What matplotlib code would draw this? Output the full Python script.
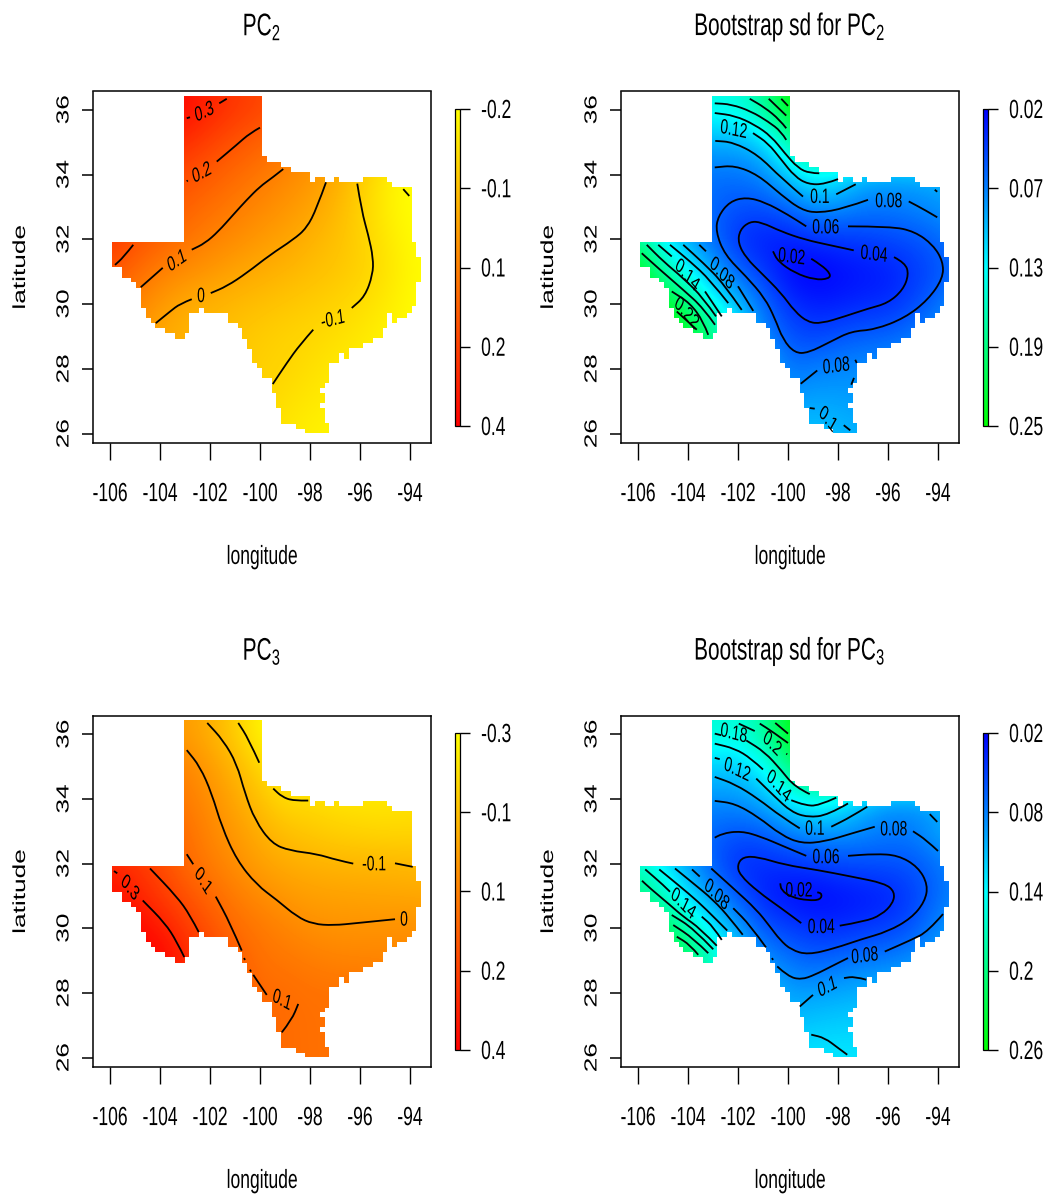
import numpy as np
from matplotlib import pyplot as plt
from matplotlib import patheffects as pe
from matplotlib.colors import LinearSegmentedColormap, Normalize
from matplotlib.cm import ScalarMappable
from matplotlib.patches import PathPatch, Polygon
from matplotlib.path import Path
from matplotlib.transforms import Affine2D

plt.rcParams['font.family'] = ['Liberation Sans', 'DejaVu Sans']
plt.rcParams['mathtext.fontset'] = 'custom'
plt.rcParams['mathtext.rm'] = 'Liberation Sans'
plt.rcParams['mathtext.default'] = 'regular'

# Texas outline on the grid of the original map, lon/lat
texas_lon = [-103.04, -99.92, -99.92, -99.72, -99.72, -99.15, -99.15, -98.75, -98.75, -98.0, -98.0, -97.8, -97.8, -97.4, -97.4, -97.04, -97.04, -96.84, -96.84, -95.87, -95.87, -94.92, -94.92, -94.72, -94.72, -93.92, -93.92, -93.76, -93.76, -93.56, -93.56, -93.76, -93.76, -93.92, -93.92, -94.13, -94.13, -94.52, -94.52, -94.72, -94.72, -94.92, -94.92, -95.08, -95.08, -95.47, -95.47, -95.87, -95.87, -96.44, -96.44, -96.64, -96.64, -96.84, -96.84, -97.23, -97.23, -97.4, -97.4, -97.59, -97.59, -97.4, -97.4, -97.59, -97.59, -97.4, -97.4, -97.23, -97.23, -98.2, -98.2, -98.56, -98.56, -99.15, -99.15, -99.36, -99.36, -99.53, -99.53, -99.92, -99.92, -100.12, -100.12, -100.31, -100.31, -100.51, -100.51, -100.71, -100.71, -100.89, -100.89, -101.28, -101.28, -102.24, -102.24, -102.44, -102.44, -102.83, -102.83, -103.0, -103.0, -103.4, -103.4, -103.79, -103.79, -104.19, -104.19, -104.36, -104.36, -104.56, -104.56, -104.76, -104.76, -104.96, -104.96, -105.15, -105.15, -105.52, -105.52, -105.92, -105.92, -103.04]
texas_lat = [36.43, 36.43, 34.56, 34.56, 34.39, 34.39, 34.24, 34.24, 34.08, 34.08, 33.78, 33.78, 33.93, 33.93, 33.78, 33.78, 33.93, 33.93, 33.78, 33.78, 33.93, 33.93, 33.78, 33.78, 33.62, 33.62, 31.93, 31.93, 31.46, 31.46, 30.67, 30.67, 29.93, 29.93, 29.73, 29.73, 29.57, 29.57, 29.42, 29.42, 29.73, 29.73, 29.26, 29.26, 28.95, 28.95, 28.80, 28.80, 28.64, 28.64, 28.31, 28.31, 28.48, 28.48, 28.17, 28.17, 27.55, 27.55, 27.41, 27.41, 27.26, 27.26, 26.94, 26.94, 26.80, 26.80, 26.34, 26.34, 26.01, 26.01, 26.15, 26.15, 26.31, 26.31, 26.79, 26.79, 27.25, 27.25, 27.72, 27.72, 28.02, 28.02, 28.17, 28.17, 28.62, 28.62, 28.93, 28.93, 29.26, 29.26, 29.42, 29.42, 29.73, 29.73, 29.88, 29.88, 29.73, 29.73, 29.11, 29.11, 28.93, 28.93, 29.11, 29.11, 29.26, 29.26, 29.42, 29.42, 29.57, 29.57, 29.88, 29.88, 30.49, 30.49, 30.67, 30.67, 30.82, 30.82, 31.13, 31.13, 31.93, 31.93]

field_lon = [-106, -105, -104, -103, -102, -101, -100, -99, -98, -97, -96, -95, -94, -93]
field_lat = [26, 27, 28, 29, 30, 31, 32, 33, 34, 35, 36]

pc2_field = [
    [-.08, -.08, -.08, -.08, -.09, -.10, -.12, -.145, -.165, -.18, -.19, -.2, -.2, -.2],
    [-.05, -.05, -.05, -.05, -.07, -.085, -.10, -.125, -.145, -.16, -.175, -.19, -.2, -.2],
    [.02, .01, .0, -.02, -.05, -.07, -.09, -.10, -.125, -.145, -.16, -.18, -.2, -.2],
    [.10, .05, .0, -.02, -.04, -.06, -.08, -.095, -.105, -.125, -.145, -.17, -.19, -.2],
    [.15, .09, .04, .0, -.02, -.035, -.05, -.065, -.08, -.095, -.12, -.15, -.19, -.2],
    [.20, .15, .10, .07, .045, .015, -.005, -.025, -.045, -.065, -.09, -.13, -.18, -.2],
    [.27, .21, .17, .13, .095, .07, .04, .015, -.02, -.05, -.09, -.14, -.19, -.2],
    [.28, .25, .20, .17, .14, .11, .08, .05, .02, -.03, -.09, -.16, -.2, -.2],
    [.30, .27, .24, .22, .185, .15, .12, .085, .05, .0, -.08, -.15, -.2, -.2],
    [.34, .32, .31, .29, .245, .205, .17, .13, .09, .04, -.02, -.1, -.15, -.2],
    [.40, .40, .40, .37, .315, .27, .24, .2, .15, .1, .05, 0, -.05, -.1],
]
sd2_field = [
    [.11, .11, .11, .11, .11, .11, .11, .11, .105, .10, .10, .10, .10, .10],
    [.09, .09, .09, .09, .09, .09, .09, .095, .093, .09, .09, .09, .09, .09],
    [.24, .24, .20, .16, .13, .11, .072, .078, .082, .085, .09, .09, .09, .09],
    [.25, .25, .24, .20, .13, .08, .058, .05, .058, .063, .065, .075, .09, .10],
    [.25, .24, .195, .14, .105, .068, .042, .033, .033, .038, .04, .052, .07, .09],
    [.24, .175, .133, .095, .065, .045, .024, .017, .024, .028, .032, .044, .056, .07],
    [.19, .135, .095, .065, .04, .033, .032, .04, .043, .047, .052, .056, .065, .08],
    [.12, .10, .08, .065, .057, .056, .066, .085, .086, .076, .075, .08, .087, .095],
    [.10, .09, .08, .07, .072, .082, .113, .14, .125, .10, .095, .095, .10, .10],
    [.10, .10, .09, .10, .10, .115, .17, .21, .22, .22, .2, .2, .2, .2],
    [.15, .15, .15, .145, .15, .18, .24, .27, .27, .27, .27, .27, .27, .27],
]
pc3_field = [
    [.12, .12, .12, .12, .12, .12, .12, .105, .095, .09, .09, .09, .09, .09],
    [.12, .12, .12, .12, .12, .12, .12, .105, .095, .09, .09, .09, .09, .09],
    [.3, .3, .3, .25, .2, .16, .11, .105, .09, .09, .09, .07, .06, .06],
    [.4, .4, .4, .31, .22, .15, .09, .075, .06, .045, .04, .04, .03, .03],
    [.4, .39, .33, .24, .17, .105, .07, .04, .01, .0, .0, .0, .01, .0],
    [.36, .31, .24, .18, .115, .06, .02, -.015, -.035, -.04, -.045, -.05, -.055, -.06],
    [.31, .26, .20, .11, .06, .01, -.04, -.07, -.085, -.095, -.10, -.10, -.105, -.11],
    [.2, .18, .14, .10, .03, -.02, -.08, -.125, -.15, -.17, -.18, -.19, -.19, -.19],
    [.15, .12, .09, .06, .01, -.06, -.13, -.2, -.2, -.22, -.23, -.23, -.22, -.22],
    [.1, .08, .06, .04, -.03, -.10, -.19, -.27, -.3, -.3, -.3, -.3, -.3, -.3],
    [.05, .03, .0, -.03, -.08, -.165, -.27, -.3, -.3, -.3, -.3, -.3, -.3, -.3],
]
sd3_field = [
    [.13, .13, .13, .13, .13, .13, .13, .13, .13, .13, .13, .13, .13, .13],
    [.11, .11, .11, .11, .11, .11, .11, .115, .118, .118, .118, .118, .118, .118],
    [.22, .2, .18, .15, .12, .12, .095, .097, .10, .105, .11, .11, .11, .11],
    [.25, .24, .22, .17, .12, .09, .075, .065, .072, .078, .08, .09, .10, .10],
    [.25, .22, .175, .13, .095, .06, .05, .042, .04, .045, .05, .06, .085, .10],
    [.20, .165, .125, .09, .06, .035, .026, .021, .026, .03, .034, .05, .07, .085],
    [.17, .135, .095, .06, .04, .04, .042, .047, .053, .056, .058, .06, .072, .09],
    [.12, .10, .08, .066, .06, .063, .08, .09, .092, .085, .078, .08, .10, .11],
    [.10, .09, .09, .088, .09, .105, .135, .152, .14, .11, .09, .09, .095, .10],
    [.12, .12, .12, .115, .118, .14, .195, .24, .24, .24, .24, .24, .24, .24],
    [.16, .16, .16, .16, .155, .185, .245, .28, .28, .28, .28, .28, .28, .28],
]

# contour pieces, broken where the labels sit, lon/lat
pc2_lines = [
    [(-102.93, 35.74), (-102.8, 35.77)],
    [(-101.63, 36.20), (-101.33, 36.34)],
    [(-102.93, 33.79), (-102.89, 33.82)],
    [(-101.73, 34.40), (-100.93, 34.92), (-100.4, 35.28), (-100.0, 35.45)],
    [(-105.8, 31.21), (-105.47, 31.44), (-105.07, 31.83)],
    [(-104.77, 30.52), (-104.33, 30.82), (-103.89, 31.12)],
    [(-102.73, 31.68), (-102.2, 31.88), (-101.67, 32.24), (-101.07, 32.76), (-100.53, 33.22), (-100.0, 33.63), (-99.53, 33.89), (-99.07, 34.17)],
    [(-104.17, 29.41), (-103.6, 29.77), (-103.2, 30.01), (-102.73, 30.15)],
    [(-101.97, 30.34), (-101.33, 30.55), (-100.53, 30.96), (-99.6, 31.52), (-98.67, 31.99), (-98.13, 32.35), (-97.73, 32.96), (-97.36, 33.76)],
    [(-99.49, 27.53), (-98.93, 28.18), (-98.4, 28.75), (-97.87, 29.21)],
    [(-96.33, 29.88), (-95.8, 30.24), (-95.49, 30.91), (-95.47, 31.42), (-95.67, 32.14), (-95.93, 32.86), (-96.11, 33.72)],
    [(-94.27, 33.55), (-94.03, 33.34)],
]
sd2_lines = [
    [(-100.6, 31.63), (-100.4, 31.32), (-99.73, 30.96), (-98.93, 30.75), (-98.37, 30.78), (-98.29, 30.93), (-98.67, 31.21), (-99.07, 31.40)],
    [(-97.37, 31.66), (-98.27, 31.81), (-99.33, 31.99), (-100.27, 32.24), (-101.07, 32.53), (-101.53, 32.55), (-101.93, 32.29), (-102.0, 31.88), (-101.67, 31.42), (-101.07, 30.96), (-100.27, 30.34), (-99.73, 29.77), (-99.2, 29.44), (-98.67, 29.40), (-97.73, 29.62), (-96.8, 29.86), (-96.0, 30.03), (-95.4, 30.44), (-95.17, 30.91), (-95.31, 31.27), (-95.76, 31.45)],
    [(-99.27, 32.40), (-100.0, 32.76), (-100.93, 33.15), (-101.67, 33.30), (-102.33, 33.17), (-102.8, 32.71), (-102.89, 32.24), (-102.53, 31.52), (-101.67, 30.85), (-100.93, 30.19), (-100.53, 29.57), (-100.2, 28.90), (-99.73, 28.49), (-99.2, 28.49), (-98.27, 28.85), (-97.47, 29.16), (-96.53, 29.21), (-95.33, 29.57), (-94.4, 30.13), (-93.8, 30.80), (-93.8, 31.32), (-94.2, 31.83), (-94.93, 32.24), (-95.87, 32.40), (-97.6, 32.40)],
    [(-102.93, 34.22), (-102.13, 34.28), (-101.2, 33.99), (-100.27, 33.37), (-99.47, 32.91), (-98.8, 32.81), (-97.73, 32.96), (-96.8, 33.22)],
    [(-95.17, 33.17), (-94.53, 32.91), (-94.03, 32.68)],
    [(-99.49, 27.54), (-98.83, 27.95)],
    [(-97.31, 28.28), (-97.25, 28.18)],
    [(-97.36, 27.72), (-97.47, 27.51)],
    [(-102.91, 35.04), (-102.2, 35.0), (-101.2, 34.61), (-100.27, 33.89), (-99.4, 33.32)],
    [(-98.07, 33.39), (-97.29, 33.70)],
    [(-99.13, 26.79), (-98.93, 26.77)],
    [(-97.77, 26.26), (-97.51, 26.10)],
    [(-94.13, 33.53), (-94.03, 33.47)],
    [(-101.4, 35.28), (-100.8, 34.97), (-100.27, 34.46), (-99.73, 33.94), (-99.2, 33.70), (-98.53, 33.70), (-98.0, 33.86)],
    [(-102.93, 35.90), (-102.13, 35.82), (-101.33, 35.54), (-100.67, 35.18), (-100.13, 34.66), (-99.6, 34.20), (-99.13, 34.04), (-98.75, 34.04)],
    [(-102.93, 36.20), (-102.27, 36.17), (-101.47, 35.95), (-100.8, 35.64), (-100.27, 35.33), (-100.07, 35.07)],
    [(-101.53, 36.34), (-100.93, 36.07), (-100.33, 35.69), (-100.07, 35.43)],
    [(-100.77, 36.34), (-100.07, 35.82)],
    [(-100.27, 36.34), (-100.0, 36.12)],
    [(-105.85, 31.57), (-105.12, 31.06), (-104.19, 30.44), (-103.39, 29.88), (-102.92, 29.36)],
    [(-105.65, 31.83), (-104.99, 31.32), (-104.19, 30.80), (-103.39, 30.19), (-102.88, 29.62)],
    [(-105.19, 31.83), (-104.65, 31.47)],
    [(-103.32, 30.39), (-102.65, 29.62)],
    [(-104.72, 31.83), (-103.92, 31.32), (-103.12, 30.75), (-102.39, 30.03)],
    [(-104.19, 31.83), (-103.39, 31.27), (-102.59, 30.65), (-101.85, 29.82)],
    [(-103.55, 31.83), (-103.28, 31.63)],
    [(-102.0, 30.55), (-101.39, 29.79)],
    [(-104.65, 30.39), (-103.92, 30.03), (-103.39, 29.47), (-103.19, 29.05)],
    [(-104.45, 29.77), (-103.65, 29.21)],
]
pc3_lines = [
    [(-102.11, 36.35), (-101.47, 35.81), (-100.93, 35.09), (-100.6, 34.17), (-100.2, 33.34), (-99.53, 32.62), (-98.8, 32.40), (-97.73, 32.30), (-96.93, 32.11), (-96.27, 32.0)],
    [(-94.6, 32.01), (-93.89, 31.90)],
    [(-100.87, 36.35), (-100.47, 35.87), (-100.03, 35.12)],
    [(-99.47, 34.32), (-99.13, 34.07), (-98.67, 33.94), (-98.07, 33.95)],
    [(-102.93, 35.51), (-102.4, 35.0), (-101.93, 34.17), (-101.53, 33.14), (-100.93, 32.11), (-100.13, 31.34), (-99.33, 30.88), (-98.53, 30.36), (-97.87, 30.13), (-97.07, 30.09), (-96.13, 30.16), (-94.6, 30.28)],
    [(-102.93, 32.29), (-102.67, 31.98)],
    [(-101.77, 30.98), (-101.2, 30.16), (-100.73, 29.31)],
    [(-100.64, 29.08), (-100.6, 29.02)],
    [(-100.4, 28.72), (-100.36, 28.66)],
    [(-100.27, 28.56), (-99.73, 27.94)],
    [(-98.47, 27.66), (-98.73, 27.17), (-99.13, 26.78)],
    [(-104.4, 31.85), (-103.33, 30.98), (-102.8, 30.41), (-102.45, 29.88)],
    [(-105.84, 31.77), (-105.71, 31.70)],
    [(-104.69, 30.86), (-103.8, 30.16), (-103.33, 29.59), (-103.03, 29.11)],
]
sd3_lines = [
    [(-100.31, 31.39), (-100.27, 31.18), (-99.87, 30.96), (-99.2, 30.86), (-98.69, 30.88), (-98.64, 31.10), (-98.83, 31.11)],
    [(-99.47, 30.16), (-100.27, 30.62), (-101.2, 31.13), (-101.93, 31.65), (-102.03, 31.96), (-101.8, 32.21), (-101.2, 32.21), (-100.13, 31.96), (-98.8, 31.80), (-97.47, 31.60), (-96.13, 31.39), (-95.73, 31.13), (-95.8, 30.77), (-96.27, 30.41), (-96.93, 30.21), (-97.93, 30.08)],
    [(-99.27, 32.24), (-100.13, 32.52), (-101.07, 32.83), (-101.87, 33.01), (-102.67, 32.93), (-102.93, 32.80)],
    [(-97.6, 32.24), (-96.53, 32.30), (-95.6, 32.26), (-94.8, 31.90), (-94.4, 31.34), (-94.53, 30.82), (-95.07, 30.31), (-96.0, 29.90), (-97.07, 29.66), (-98.13, 29.38), (-99.2, 29.18), (-99.87, 29.33), (-100.32, 29.64), (-100.72, 30.05), (-101.25, 30.57), (-102.19, 31.24), (-103.07, 31.85)],
    [(-102.93, 33.94), (-102.13, 33.86), (-101.2, 33.45), (-100.27, 32.88), (-99.47, 32.62), (-98.53, 32.68), (-97.47, 32.93), (-96.53, 33.14)],
    [(-95.0, 33.0), (-94.47, 32.73), (-94.0, 32.39)],
    [(-96.13, 29.28), (-95.07, 29.64), (-94.4, 29.90), (-93.8, 30.44)],
    [(-97.6, 29.08), (-98.27, 28.82), (-98.93, 28.56), (-99.47, 28.41), (-100.0, 28.51), (-100.43, 28.82)],
    [(-100.64, 29.08), (-100.6, 29.02)],
    [(-103.84, 31.82), (-103.53, 31.6)],
    [(-102.19, 30.62), (-101.52, 30.10), (-100.88, 29.41)],
    [(-102.93, 34.68), (-102.13, 34.46), (-101.2, 34.01), (-100.27, 33.45), (-99.53, 33.09)],
    [(-98.27, 33.14), (-97.47, 33.45), (-96.83, 33.76)],
    [(-99.53, 27.58), (-99.0, 27.94)],
    [(-97.76, 28.46), (-97.33, 28.51), (-96.87, 28.41)],
    [(-94.33, 33.53), (-94.03, 33.29)],
    [(-102.93, 35.27), (-102.73, 35.23)],
    [(-101.27, 34.63), (-100.53, 34.07), (-99.87, 33.6), (-99.2, 33.43), (-98.4, 33.5), (-97.6, 33.86)],
    [(-102.93, 35.71), (-102.13, 35.56), (-101.47, 35.25), (-101.0, 34.91)],
    [(-99.87, 33.96), (-99.33, 33.81), (-98.8, 33.78), (-98.07, 34.04)],
    [(-102.93, 36.02), (-102.67, 35.97)],
    [(-101.67, 35.81), (-100.93, 35.45), (-100.27, 34.89), (-99.73, 34.37), (-99.13, 34.15)],
    [(-101.97, 36.33), (-101.33, 36.10)],
    [(-101.13, 36.33), (-100.6, 36.07), (-100.0, 35.73)],
    [(-100.51, 36.35), (-100.0, 36.02)],
    [(-100.07, 35.40), (-100.03, 35.38)],
    [(-99.07, 26.71), (-98.53, 26.61), (-98.0, 26.30), (-97.63, 26.09)],
    [(-105.71, 31.82), (-104.99, 31.34), (-104.72, 31.13)],
    [(-105.84, 31.47), (-105.52, 31.24), (-104.72, 30.72), (-104.19, 30.36), (-103.52, 30.0), (-102.85, 29.46)],
    [(-105.15, 31.82), (-104.39, 31.34), (-103.59, 30.82), (-102.92, 30.31), (-102.43, 29.93)],
    [(-104.52, 31.85), (-103.79, 31.39), (-102.99, 30.88), (-102.32, 30.31), (-101.81, 29.80)],
    [(-103.45, 30.36), (-102.99, 30.05), (-102.65, 29.64)],
    [(-104.65, 30.41), (-103.79, 30.0), (-102.99, 29.35)],
    [(-104.59, 30.10), (-103.79, 29.69), (-103.19, 29.23)],
    [(-104.45, 29.74), (-103.92, 29.49), (-103.59, 29.18)],
]

# label, lon, lat, rotation
pc2_labels = [('0.3', -102.23, 35.95, 18), ('0.2', -102.33, 34.07, 20), ('0.1', -103.33, 31.35, 25),
              ('0', -102.36, 30.26, 0), ('-0.1', -97.09, 29.54, 10)]
sd2_labels = [('0.12', -102.17, 35.40, -8), ('0.1', -98.73, 33.32, 0), ('0.08', -95.97, 33.19, 0),
              ('0.06', -98.49, 32.38, 0), ('0.04', -96.56, 31.55, -5), ('0.02', -99.85, 31.47, -5),
              ('0.08', -102.64, 30.96, -38), ('0.14', -104.03, 30.90, -38), ('0.22', -104.05, 29.72, -38),
              ('0.08', -98.07, 28.10, 5), ('0.1', -98.4, 26.45, -40)]
pc3_labels = [('0.1', -102.27, 31.47, -49), ('0.3', -105.2, 31.26, -40), ('-0.1', -95.44, 31.99, 0),
              ('0', -94.24, 30.28, 0), ('0.1', -99.12, 27.79, -20)]
sd3_labels = [('0.18', -102.17, 36.04, -10), ('0.2', -100.63, 35.71, -35), ('0.12', -102.03, 34.91, -18),
              ('0.14', -100.37, 34.40, -38), ('0.1', -98.93, 33.09, 0), ('0.08', -95.77, 33.07, 0),
              ('0.06', -98.48, 32.21, 0), ('0.02', -99.56, 31.18, 0), ('0.04', -98.67, 30.05, 0),
              ('0.08', -102.85, 31.05, -35), ('0.14', -104.19, 30.77, -35), ('0.08', -96.93, 29.16, 5),
              ('0.1', -98.43, 28.2, 20)]

lon_ticks = [-106, -104, -102, -100, -98, -96, -94]
lat_ticks = [26, 28, 30, 32, 34, 36]

hot_map = LinearSegmentedColormap.from_list('hot2', ['#FFFF00', '#FF0000'])
cool_map = LinearSegmentedColormap.from_list('cool2', ['#0000FF', '#00FFFF', '#00FF00'])

W, H = 1050.0, 1197.0


class StretchY(pe.AbstractPathEffect):
    # the original was resized unevenly, all its text is about 1.5x too tall
    def __init__(self, k=1.5):
        super().__init__()
        self.k = k

    def draw_path(self, renderer, gc, tpath, affine, rgbFace=None):
        box = tpath.get_extents(affine)
        cy = (box.y0 + box.y1) / 2
        stretched = affine + Affine2D().translate(0, -cy).scale(1, self.k).translate(0, cy)
        renderer.draw_path(gc, tpath, stretched, rgbFace)


STRETCH = [StretchY()]


def smooth_line(points):
    if len(points) == 2:
        return Path(points)
    pts = np.array(points)
    mids = (pts[:-1] + pts[1:]) / 2
    verts = [pts[0], mids[0]]
    codes = [Path.MOVETO, Path.LINETO]
    for i in range(1, len(pts) - 1):
        end = mids[i] if i < len(pts) - 2 else pts[-1]
        verts += [pts[i], end]
        codes += [Path.CURVE3, Path.CURVE3]
    return Path(verts, codes)


def draw_panel(box, bar_box, title, field, cmap, vmin, vmax, lines, labels, bar_labels):
    x0, y0, x1, y1 = box
    ax = fig.add_axes([x0 / W, 1 - y1 / H, (x1 - x0) / W, (y1 - y0) / H])
    ext = [field_lon[0] - .5, field_lon[-1] + .5, field_lat[0] - .5, field_lat[-1] + .5]
    norm = Normalize(vmin, vmax)
    im = ax.imshow(field, origin='lower', extent=ext, cmap=cmap, norm=norm, interpolation='bicubic', aspect='auto')
    shape = Polygon(np.column_stack([texas_lon, texas_lat]), closed=True, transform=ax.transData)
    im.set_clip_path(shape)
    for line in lines:
        ax.add_patch(PathPatch(smooth_line(line), fill=False, ec='black', lw=1.3, capstyle='butt'))
    for txt, lon, lat, rot in labels:
        ax.text(lon, lat, txt, fontsize=10, rotation=rot, ha='center', va='center',
                rotation_mode='anchor', path_effects=STRETCH)
    ax.set_xlim(-106.68, -93.16)
    ax.set_ylim(25.71, 36.565)
    ax.set_xticks(lon_ticks)
    ax.set_xticklabels([str(v) for v in lon_ticks], fontsize=12.6, path_effects=STRETCH)
    ax.set_yticks(lat_ticks)
    ax.set_yticklabels([str(v) for v in lat_ticks], fontsize=12.6, rotation=90, va='center', path_effects=STRETCH)
    ax.tick_params(axis='x', length=12, width=1, pad=19)
    ax.tick_params(axis='y', length=8, width=1.1, pad=7.5)
    for sp in ax.spines.values():
        sp.set_linewidth(1.1)
    ax.set_title(title, fontsize=15, pad=42.5, path_effects=STRETCH)
    ax.set_xlabel('longitude', fontsize=12.6, labelpad=35, path_effects=STRETCH)
    ax.set_ylabel('latitude', fontsize=12.6, labelpad=20.5, path_effects=STRETCH)

    bx0, by0, bx1, by1 = bar_box
    cax = fig.add_axes([bx0 / W, 1 - by1 / H, (bx1 - bx0) / W, (by1 - by0) / H])
    cb = fig.colorbar(ScalarMappable(norm=norm, cmap=cmap), cax=cax)
    cax.invert_yaxis()
    cb.set_ticks(np.linspace(vmin, vmax, 5))
    cb.set_ticklabels(bar_labels)
    cax.tick_params(length=7.2, width=1, pad=8, labelsize=12.6)
    for lab in cax.get_yticklabels():
        lab.set_path_effects(STRETCH)
    cb.outline.set_linewidth(0.9)
    cb.outline.set_edgecolor('black')


fig = plt.figure(figsize=(10.5, 11.97), dpi=100, facecolor='white')
draw_panel((93, 91.5, 431, 443), (455, 109, 460, 426), 'PC$_2$', pc2_field, hot_map, -0.2, 0.4,
           pc2_lines, pc2_labels, ['-0.2', '-0.1', '0.1', '0.2', '0.4'])
draw_panel((621, 91.5, 959, 443), (983, 109, 988, 426), 'Bootstrap sd for PC$_2$', sd2_field, cool_map, 0.02, 0.25,
           sd2_lines, sd2_labels, ['0.02', '0.07', '0.13', '0.19', '0.25'])
draw_panel((93, 716, 431, 1067), (455, 733, 460, 1050), 'PC$_3$', pc3_field, hot_map, -0.3, 0.4,
           pc3_lines, pc3_labels, ['-0.3', '-0.1', '0.1', '0.2', '0.4'])
draw_panel((621, 716, 959, 1067), (983, 733, 988, 1050), 'Bootstrap sd for PC$_3$', sd3_field, cool_map, 0.02, 0.26,
           sd3_lines, sd3_labels, ['0.02', '0.08', '0.14', '0.2', '0.26'])
fig.savefig('out.png', dpi=100)
